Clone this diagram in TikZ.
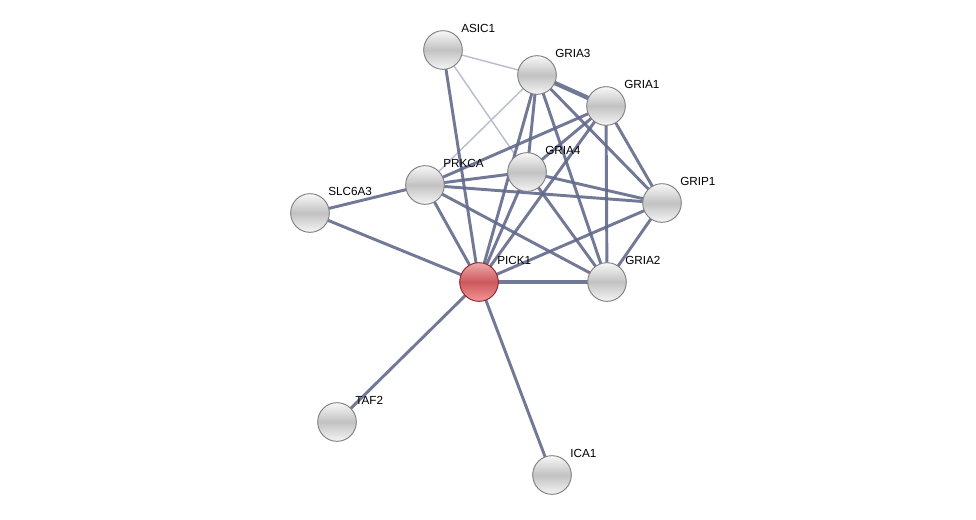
\documentclass[tikz,border=0pt]{standalone}
\usepackage{fontspec}
\setmainfont{Liberation Sans}
\usetikzlibrary{backgrounds}

\definecolor{edgeblue}{RGB}{98,106,140}
\definecolor{edgepale}{RGB}{186,190,207}
\definecolor{beadrim}{RGB}{128,128,128}
\definecolor{seedrim}{RGB}{140,38,42}

\tikzset{
  bead/.style={circle,minimum size=29pt,inner sep=0pt,draw=beadrim,line width=0.7pt,
    top color=white!97!black,bottom color=white!96!black,middle color=white!76!black},
  seed/.style={circle,minimum size=29pt,inner sep=0pt,draw=seedrim,line width=0.7pt,
    top color={rgb,255:red,236;green,170;blue,170},bottom color={rgb,255:red,244;green,150;blue,150},
    middle color={rgb,255:red,205;green,88;blue,92}},
  tag/.style={anchor=base west,inner sep=0pt},
  weak/.style={draw=edgepale,line width=1.1pt},
  mid/.style={draw=edgeblue,line width=2.2pt,opacity=0.9},
  strong/.style={draw=edgeblue,line width=3.3pt,opacity=0.9}
}

\begin{document}
\begin{tikzpicture}[x=0.75pt,y=-0.75pt,line cap=round,line join=round,font=\fontsize{8.8}{10}\selectfont]
		\useasboundingbox (0,0) rectangle (976,519);
		
		% proteins
		\foreach \name/\x/\y/\kind in {ASIC1/443/50/bead, GRIA3/537/75/bead, GRIA1/606/106/bead,
			GRIA4/527/172/bead, PRKCA/425/185/bead, SLC6A3/310/213/bead, GRIP1/662/203/bead,
			PICK1/479/282/seed, GRIA2/607/282/bead, TAF2/337/422/bead, ICA1/552/475/bead} {
			\node[\kind] (\name) at (\x,\y) {};
			\node[tag] (\name-tag) at (\x+18,\y-17.5) {\name};
		}
		
		% interactions
		\begin{scope}[on background layer]
			\foreach \a/\b in {ASIC1/GRIA3, ASIC1/GRIA4, GRIA3/PRKCA} {
				\draw[weak] (\a) -- (\b);
			}
			\foreach \a/\b in {ASIC1/PICK1, GRIA3/GRIA4, GRIA3/PICK1, GRIA3/GRIA2, GRIA3/GRIP1,
				GRIA1/PRKCA, GRIA1/GRIA4, GRIA1/PICK1, GRIA1/GRIA2, GRIA1/GRIP1,
				GRIA4/PRKCA, GRIA4/GRIP1, GRIA4/GRIA2, GRIA4/PICK1,
				PRKCA/GRIP1, PRKCA/GRIA2, PRKCA/PICK1, PRKCA/SLC6A3, SLC6A3/PICK1,
				PICK1/GRIP1, GRIP1/GRIA2, PICK1/TAF2, PICK1/ICA1} {
				\draw[mid] (\a.center) -- (\b.center);
			}
			\foreach \a/\b in {GRIA3/GRIA1, PICK1/GRIA2} {
				\draw[strong] (\a.center) -- (\b.center);
			}
		\end{scope}
		
	\end{tikzpicture}
\end{document}
